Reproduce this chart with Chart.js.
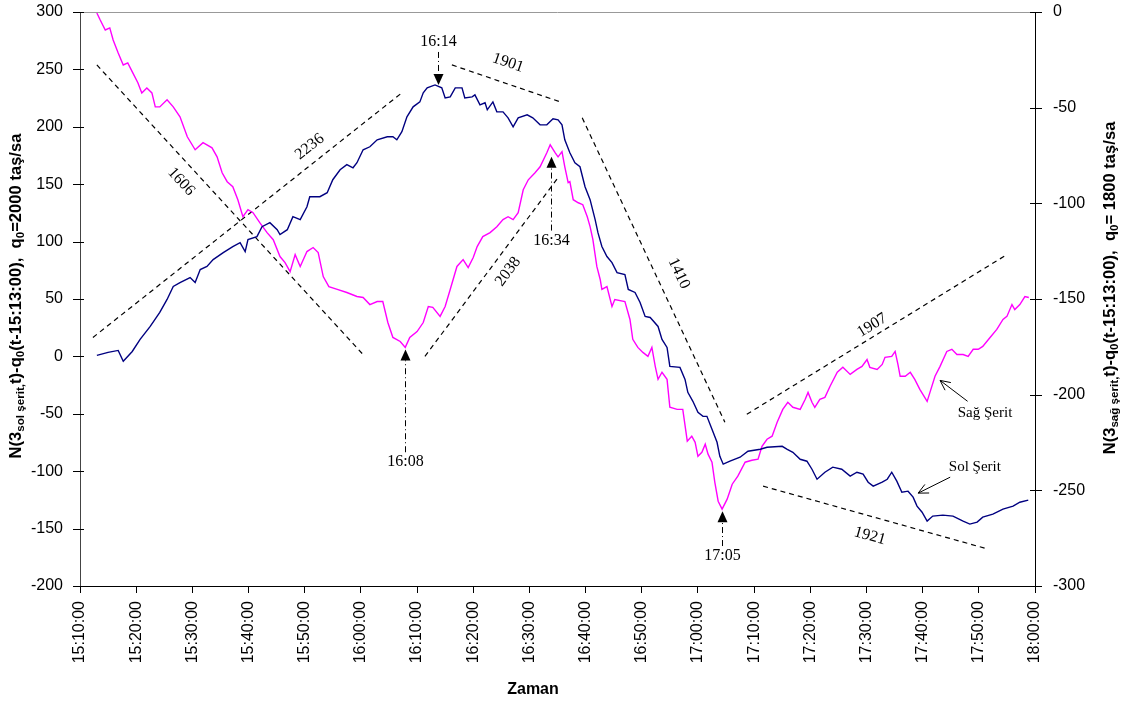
<!DOCTYPE html>
<html lang="tr">
<head>
<meta charset="UTF-8" />
<title>Sol / Sağ Şerit kümülatif eğrileri</title>
<script src="https://cdn.jsdelivr.net/npm/chart.js"></script>
<style>
  body { margin: 0; background: #fff; }
  canvas { display: block; }
</style>
</head>
<body>
<canvas id="chart" width="1122" height="705"></canvas>
<script>
// time axis = minutes after 15:10:00

// Sol Şerit (left axis), q0 = 2000
const solTime = [3.0, 5.0, 6.8, 7.7, 9.3, 10.7, 12.5, 14.2, 15.5, 16.6, 17.8, 19.6, 20.5, 21.4, 22.6, 23.7, 25.5, 27.2, 28.5, 29.4, 29.9, 31.5, 32.4, 33.8, 35.1, 35.6, 36.9, 37.9, 39.2, 40.4, 40.9, 42.7, 44.0, 45.0, 46.3, 47.5, 48.6, 49.3, 50.4, 51.6, 52.9, 54.7, 55.7, 56.4, 57.3, 58.2, 59.3, 60.5, 61.1, 61.8, 63.2, 64.4, 65.0, 65.9, 66.8, 68.0, 68.5, 69.8, 70.3, 71.2, 72.1, 72.5, 73.5, 74.2, 75.3, 76.2, 77.1, 78.0, 79.6, 80.6, 81.9, 83.1, 84.2, 85.1, 85.8, 86.3, 87.2, 88.1, 89.0, 89.9, 90.8, 91.7, 92.2, 92.9, 93.8, 94.7, 95.6, 97.0, 97.6, 98.8, 99.7, 100.6, 101.5, 102.9, 103.6, 104.5, 105.0, 106.8, 107.7, 108.2, 109.1, 110.0, 110.9, 111.6, 112.5, 113.4, 113.9, 114.5, 115.7, 117.5, 118.9, 121.1, 122.3, 125.0, 125.9, 126.9, 128.2, 129.4, 130.3, 131.2, 132.6, 134.0, 135.6, 137.1, 138.3, 139.4, 140.3, 141.2, 142.8, 143.7, 144.5, 145.4, 146.3, 147.4, 148.3, 149.0, 149.9, 150.8, 151.8, 153.6, 155.4, 157.2, 158.4, 159.7, 160.7, 162.5, 164.3, 166.1, 167.3, 168.8];
const solValue = [0.9, 3.5, 5.2, -4.3, 4.3, 14.8, 26.1, 38.3, 49.6, 60.9, 64.3, 68.7, 64.3, 75.7, 78.3, 84.3, 90.4, 95.7, 99.1, 91.3, 101.7, 104.3, 113.0, 116.5, 110.4, 106.1, 110.4, 121.7, 119.1, 130.4, 139.1, 139.1, 142.6, 153.9, 162.6, 167.0, 164.3, 168.7, 180.0, 182.6, 188.7, 191.3, 191.3, 188.7, 195.7, 208.7, 217.4, 221.7, 229.6, 233.9, 236.5, 233.9, 225.2, 226.1, 233.9, 233.9, 225.2, 226.1, 227.8, 219.1, 220.9, 214.8, 221.7, 213.0, 213.0, 207.8, 200.0, 207.8, 210.4, 207.8, 201.7, 201.7, 207.0, 206.1, 201.7, 188.7, 177.4, 168.7, 165.2, 147.8, 136.5, 119.1, 107.8, 95.7, 87.0, 81.7, 73.0, 71.3, 58.3, 55.7, 47.0, 34.8, 33.9, 26.1, 14.8, 7.8, -8.7, -9.6, -20.0, -31.3, -39.1, -48.7, -52.2, -52.2, -63.5, -74.8, -87.0, -93.9, -91.3, -87.8, -82.6, -80.9, -79.1, -78.3, -80.9, -83.5, -89.6, -91.3, -98.3, -107.0, -100.9, -96.5, -98.3, -104.3, -100.9, -102.6, -109.6, -113.0, -109.6, -107.0, -100.9, -108.7, -118.3, -117.4, -122.6, -130.4, -135.7, -143.5, -139.1, -138.3, -139.1, -143.5, -146.1, -144.3, -140.0, -137.4, -133.0, -130.4, -127.0, -125.2];

// Sağ Şerit (right axis), q0 = 1800
const sagTime = [3.0, 3.6, 4.5, 5.3, 5.9, 6.8, 7.7, 8.5, 9.4, 10.3, 11.0, 11.9, 12.8, 13.4, 14.2, 15.5, 16.6, 17.8, 19.1, 20.5, 21.9, 23.5, 24.4, 25.3, 26.2, 27.2, 28.1, 29.0, 29.9, 30.8, 32.0, 33.3, 34.4, 35.6, 36.5, 37.4, 38.3, 39.2, 40.4, 41.5, 42.4, 43.3, 44.3, 45.8, 47.5, 49.3, 50.4, 51.6, 52.9, 53.9, 54.8, 55.7, 57.0, 57.9, 58.7, 60.0, 61.1, 62.0, 62.8, 64.1, 65.0, 65.9, 67.1, 68.2, 69.1, 70.0, 70.7, 71.7, 73.0, 74.2, 75.3, 76.2, 77.1, 78.0, 78.9, 79.8, 81.0, 81.9, 83.1, 83.7, 84.6, 85.1, 85.8, 86.3, 86.9, 87.2, 87.8, 88.7, 89.5, 90.3, 90.8, 91.3, 92.0, 92.6, 92.9, 93.8, 94.7, 95.2, 97.0, 97.9, 98.4, 99.3, 100.2, 101.1, 101.8, 102.4, 102.9, 103.6, 104.5, 105.0, 106.3, 107.3, 108.1, 108.9, 109.5, 110.0, 110.7, 111.3, 111.8, 112.5, 113.0, 113.6, 114.3, 115.2, 116.1, 117.1, 118.4, 119.6, 120.7, 121.4, 122.3, 123.2, 124.1, 125.1, 126.0, 126.9, 128.2, 129.1, 129.6, 130.3, 130.8, 131.7, 132.6, 133.5, 134.8, 135.8, 137.1, 138.3, 139.2, 140.1, 140.6, 141.9, 142.8, 143.3, 144.5, 145.1, 145.6, 146.0, 146.9, 147.8, 148.6, 149.5, 150.8, 151.3, 152.2, 153.1, 154.3, 155.2, 156.1, 157.2, 158.1, 159.0, 159.9, 160.7, 162.0, 163.2, 164.3, 165.0, 165.9, 166.4, 167.3, 168.2, 168.9];
const sagValue = [-0.5, -4.2, -9.4, -8.3, -14.6, -21.4, -27.7, -26.6, -31.8, -37.0, -42.3, -39.7, -42.3, -49.6, -49.6, -45.9, -49.6, -54.8, -65.2, -72.0, -68.3, -71.0, -75.7, -84.0, -88.7, -91.3, -98.1, -107.0, -103.3, -104.9, -110.1, -115.3, -119.0, -127.8, -131.0, -135.7, -126.8, -133.0, -125.2, -123.1, -125.7, -138.3, -143.5, -145.0, -146.6, -148.7, -149.2, -152.9, -151.3, -151.3, -162.3, -170.1, -172.2, -175.3, -170.1, -167.0, -162.3, -153.9, -154.4, -159.1, -153.9, -145.0, -133.0, -129.4, -133.6, -128.3, -122.6, -117.4, -115.3, -112.2, -108.5, -107.0, -108.5, -104.9, -92.9, -87.7, -84.0, -80.9, -73.6, -69.4, -73.6, -75.7, -73.0, -80.9, -89.2, -88.7, -98.1, -99.7, -100.7, -107.0, -112.2, -119.0, -133.0, -139.8, -145.0, -143.5, -153.9, -150.3, -151.3, -160.7, -171.1, -175.3, -177.9, -180.0, -175.3, -185.2, -192.0, -188.3, -192.0, -206.6, -207.7, -207.7, -224.3, -221.7, -224.9, -232.2, -230.1, -225.9, -231.1, -235.3, -245.7, -255.7, -259.8, -254.6, -246.8, -242.6, -235.3, -234.3, -233.7, -227.0, -223.3, -221.7, -214.4, -207.7, -204.0, -206.6, -207.7, -202.4, -198.8, -204.0, -206.6, -202.4, -201.4, -195.7, -188.3, -185.7, -189.4, -186.8, -185.2, -181.6, -185.7, -186.8, -184.2, -180.5, -180.0, -177.4, -184.2, -190.4, -190.4, -188.3, -192.0, -197.2, -203.5, -198.8, -190.4, -185.2, -177.4, -176.3, -179.0, -179.0, -180.0, -176.3, -176.3, -174.8, -170.1, -165.9, -160.7, -159.1, -152.9, -155.5, -152.9, -148.7, -149.2];

// dashed trend lines (left axis units) and their flow labels
const trendNames = ['2236', '1606', '2038', '1901', '1410', '1907', '1921'];
const trendFrom = [[2.3, 16.5], [3.0, 253.9], [61.4, 0], [66.2, 253.9], [89.4, 207.8], [118.7, -50.4], [121.6, -113.0]];
const trendTo = [[57.5, 230.4], [50.7, 0], [85.1, 155.7], [85.5, 221.7], [114.8, -57.4], [165.0, 88.7], [161.6, -167.8]];

// marked instants
const markNames = ['16:14', '16:08', '16:34', '17:05'];
const markTime = [63.8, 57.9, 83.9, 114.3];
const markTip = [236.5, 6.1, 173.9, -134.8];

const SANS = '"Liberation Sans", Arial, sans-serif';
const SERIF = '"Liberation Serif", "Times New Roman", serif';

// where the text of each annotation sits (left axis units)
const trendLabelAt = [[40.9, 182.6], [18.0, 152.2], [76.2, 73.9], [76.2, 255.7], [106.6, 72.2], [141.0, 27.0], [140.6, -156.5]];
const markTextAt = [273.9, -92.2, 100.9, -173.9];
const laneNotes = [
  { text: 'Sağ Şerit', at: [161.1, -49.6], from: [158.0, -39.1], to: [153.1, -20.9] },
  { text: 'Sol Şerit', at: [159.3, -96.5], from: [154.9, -105.2], to: [149.2, -119.1] }
];

function fmtTime(v) {
  const m = 10 + Math.round(v);
  const h = 15 + Math.floor(m / 60);
  const mm = m % 60;
  return h + ':' + String(mm).padStart(2, '0') + ':00';
}

function toXY(t, v) { return t.map((x, i) => ({ x: x, y: v[i] })); }

const datasets = [
  { data: toXY(solTime, solValue), yAxisID: 'y', borderColor: '#000080', borderWidth: 1.4 },
  { data: toXY(sagTime, sagValue), yAxisID: 'y2', borderColor: '#ff00ff', borderWidth: 1.4 }
];
trendNames.forEach((n, i) => {
  datasets.push({
    data: [{ x: trendFrom[i][0], y: trendFrom[i][1] }, { x: trendTo[i][0], y: trendTo[i][1] }],
    yAxisID: 'y', borderColor: '#000', borderWidth: 1.2, borderDash: [5, 4]
  });
});

function richText(ctx, parts, cx, cy, size) {
  ctx.save();
  ctx.translate(cx, cy);
  ctx.rotate(-Math.PI / 2);
  const fontFor = p => 'bold ' + (p[1] ? size * 0.7 : size) + 'px ' + SANS;
  let total = 0;
  parts.forEach(p => { ctx.font = fontFor(p); total += ctx.measureText(p[0]).width; });
  let x = -total / 2;
  ctx.textAlign = 'left';
  ctx.textBaseline = 'middle';
  ctx.fillStyle = '#000';
  parts.forEach(p => {
    ctx.font = fontFor(p);
    ctx.fillText(p[0], x, p[1] ? size * 0.3 : 0);
    x += ctx.measureText(p[0]).width;
  });
  ctx.restore();
}

const overlay = {
  id: 'overlay',
  afterDraw(chart) {
    const ctx = chart.ctx;
    const a = chart.chartArea;
    const x = chart.scales.x, y = chart.scales.y, y2 = chart.scales.y2;
    const px = t => x.getPixelForValue(t);
    const py = v => y.getPixelForValue(v);

    ctx.save();
    // top frame line
    ctx.strokeStyle = '#999';
    ctx.lineWidth = 1;
    ctx.beginPath();
    ctx.moveTo(a.left, a.top + 0.5);
    ctx.lineTo(a.right, a.top + 0.5);
    ctx.stroke();

    // cross tick marks on both value axes
    ctx.strokeStyle = '#000';
    y.ticks.forEach(tk => {
      const yy = Math.round(y.getPixelForValue(tk.value)) + 0.5;
      ctx.beginPath(); ctx.moveTo(a.left - 7, yy); ctx.lineTo(a.left + 4, yy); ctx.stroke();
    });
    y2.ticks.forEach(tk => {
      const yy = Math.round(y2.getPixelForValue(tk.value)) + 0.5;
      ctx.beginPath(); ctx.moveTo(a.right - 5, yy); ctx.lineTo(a.right + 7, yy); ctx.stroke();
    });

    // trend labels along their lines
    ctx.fillStyle = '#000';
    ctx.font = '16px ' + SERIF;
    ctx.textAlign = 'center';
    ctx.textBaseline = 'middle';
    trendNames.forEach((n, i) => {
      let ang = Math.atan2(py(trendTo[i][1]) - py(trendFrom[i][1]), px(trendTo[i][0]) - px(trendFrom[i][0]));
      if (ang > Math.PI / 2) ang -= Math.PI;
      if (ang < -Math.PI / 2) ang += Math.PI;
      ctx.save();
      ctx.translate(px(trendLabelAt[i][0]), py(trendLabelAt[i][1]));
      ctx.rotate(ang);
      ctx.fillText(n, 0, 0);
      ctx.restore();
    });

    // time markers: text, dash-dot stem, filled triangle
    ctx.font = '16px ' + SERIF;
    markNames.forEach((n, i) => {
      const xx = Math.round(px(markTime[i])) + 0.5;
      const tip = py(markTip[i]);
      const ty = py(markTextAt[i]);
      const dir = ty < tip ? -1 : 1; // text above -> arrow points down
      ctx.fillText(n, xx, ty);
      const base = tip + dir * 11;
      ctx.setLineDash([6, 3, 1, 3]);
      ctx.lineWidth = 1;
      ctx.beginPath();
      ctx.moveTo(xx, ty - dir * 10);
      ctx.lineTo(xx, base);
      ctx.stroke();
      ctx.setLineDash([]);
      ctx.beginPath();
      ctx.moveTo(xx, tip);
      ctx.lineTo(xx - 5, base);
      ctx.lineTo(xx + 5, base);
      ctx.closePath();
      ctx.fill();
    });

    // lane notes with open arrows
    ctx.font = '15px ' + SERIF;
    laneNotes.forEach(nt => {
      ctx.fillText(nt.text, px(nt.at[0]), py(nt.at[1]));
      const x0 = px(nt.from[0]), y0 = py(nt.from[1]);
      const x1 = px(nt.to[0]), y1 = py(nt.to[1]);
      const ang = Math.atan2(y1 - y0, x1 - x0);
      ctx.lineWidth = 1;
      ctx.beginPath();
      ctx.moveTo(x0, y0); ctx.lineTo(x1, y1);
      ctx.moveTo(x1 - 11 * Math.cos(ang - 0.45), y1 - 11 * Math.sin(ang - 0.45));
      ctx.lineTo(x1, y1);
      ctx.lineTo(x1 - 11 * Math.cos(ang + 0.45), y1 - 11 * Math.sin(ang + 0.45));
      ctx.stroke();
    });

    // axis titles
    richText(ctx, [['N(3'], ['sol şerit,', true], ['t)-q'], ['0', true], ['(t-15:13:00),  q'], ['0', true], ['=2000 taş/sa']], 16, 296, 16.6);
    richText(ctx, [['N(3'], ['sağ şerit,', true], ['t)-q'], ['0', true], ['(t-15:13:00),  q'], ['0', true], ['= 1800 taş/sa']], 1110, 288, 16.6);
    ctx.font = 'bold 16px ' + SANS;
    ctx.textAlign = 'center';
    ctx.fillText('Zaman', 533, 690);
    ctx.restore();
  }
};

new Chart(document.getElementById('chart'), {
  type: 'line',
  data: { datasets: datasets },
  plugins: [overlay],
  options: {
    responsive: false,
    animation: false,
    parsing: false,
    elements: { point: { radius: 0 }, line: { tension: 0 } },
    layout: { padding: { top: 12, left: 0, right: 0, bottom: 0 } },
    plugins: { legend: { display: false }, tooltip: { enabled: false } },
    scales: {
      x: {
        type: 'linear', min: 0, max: 170,
        afterFit(s) { s.height = 119; },
        afterBuildTicks(s) { s.ticks = []; for (let v = 0; v <= 170; v += 10) s.ticks.push({ value: v }); },
        ticks: {
          autoSkip: false, minRotation: 90, maxRotation: 90, padding: 8,
          color: '#000', font: { family: SANS, size: 16 },
          callback: v => fmtTime(v)
        },
        grid: { drawOnChartArea: false, tickLength: 7, color: '#000' },
        border: { color: '#000', width: 1 }
      },
      y: {
        position: 'left', min: -200, max: 300,
        afterFit(s) { s.width = 80; },
        // tick marks are drawn by the overlay; the long transparent tick only spaces the labels
        ticks: { stepSize: 50, padding: 2, color: '#000', font: { family: SANS, size: 16 } },
        grid: { drawOnChartArea: false, tickLength: 15, tickColor: 'rgba(0,0,0,0)' },
        border: { color: '#444', width: 1 }
      },
      y2: {
        position: 'right', min: -300, max: 0,
        afterFit(s) { s.width = 87; },
        ticks: { stepSize: 50, padding: 2, color: '#000', font: { family: SANS, size: 16 } },
        grid: { drawOnChartArea: false, tickLength: 16, tickColor: 'rgba(0,0,0,0)' },
        border: { color: '#000', width: 1 }
      }
    }
  }
});
</script>
</body>
</html>
